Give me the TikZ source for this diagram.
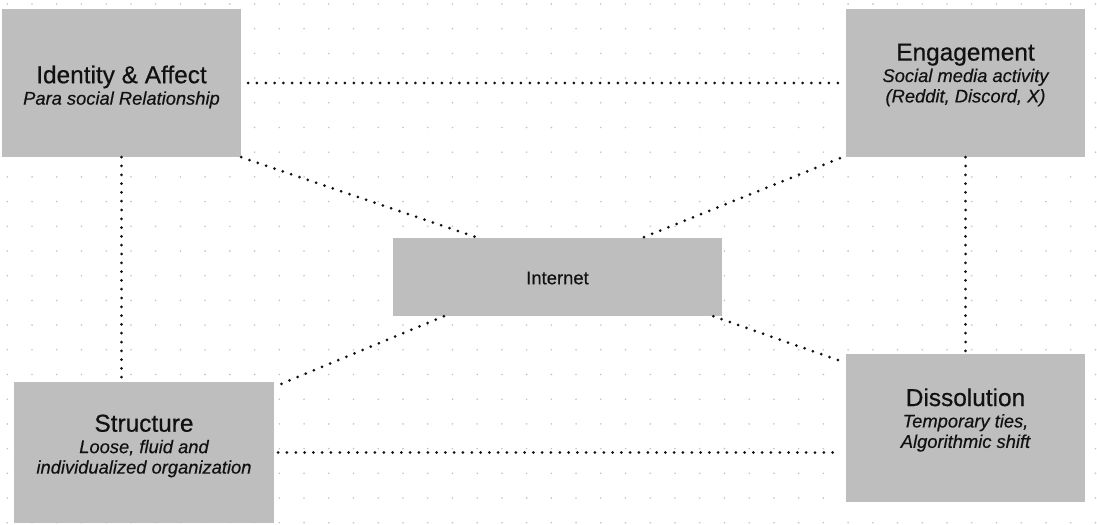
\documentclass[tikz,border=0pt]{standalone}
\usepackage{fontspec}
\setmainfont{Liberation Sans}
\usetikzlibrary{calc}
\definecolor{boxgray}{HTML}{BEBEBE}
\definecolor{griddot}{HTML}{C4C4C4}
\definecolor{ink}{HTML}{111111}
\newcommand{\ttl}[1]{{\fontsize{24.5}{26}\selectfont\addfontfeature{FakeBold=0.6}#1}}
\newcommand{\subt}[1]{{\fontsize{18.4}{20.5}\selectfont\itshape\addfontfeature{FakeBold=0.4}#1}}
\tikzset{
  card/.style={rectangle, fill=boxgray, draw=none, inner sep=0pt},
  cardtext/.style={align=center, inner sep=0pt, text=ink, font=\fontsize{18.4}{20.5}\selectfont},
  link/.style={draw=ink, line width=3bp, line cap=round, dash pattern=on 0bp off 8.8bp},
}
\begin{document}
\begin{tikzpicture}[x=1bp,y=-1bp]
\useasboundingbox (0,0) rectangle (1097,525);
\fill[white] (0,0) rectangle (1097,525);
% background dot grid
\foreach \i in {0,...,44}{
  \foreach \j in {0,...,21}{
    \fill[griddot] ({7.3+24.73*\i},{4+24.7*\j}) circle (0.9);
  }
}
% boxes
\node[card, minimum width=239bp, minimum height=148bp] (id) at (121.5,83) {};
\node[card, minimum width=239bp, minimum height=148bp] (eng) at (965.5,83) {};
\node[card, minimum width=329bp, minimum height=78bp] (inet) at (557.5,277) {};
\node[card, minimum width=260bp, minimum height=141bp] (str) at (144,452.5) {};
\node[card, minimum width=239bp, minimum height=148bp] (dis) at (965.5,428) {};
% texts
\node[cardtext] (idt) at (121.5,87) {\ttl{Identity \& Affect}\\[1pt]\subt{Para social Relationship}};
\node[cardtext] (engt) at (965.5,75) {\ttl{Engagement}\\[1pt]\subt{Social media activity}\\\subt{(Reddit, Discord, X)}};
\node[cardtext] (inett) at (557.5,278) {\fontsize{18.5}{20}\selectfont\addfontfeature{FakeBold=0.5}Internet};
\node[cardtext] (strt) at (144,446) {\ttl{Structure}\\[1pt]\subt{Loose, fluid and}\\\subt{individualized organization}};
\node[cardtext] (dist) at (965.5,420) {\ttl{Dissolution}\\[1pt]\subt{Temporary ties,}\\\subt{Algorithmic shift}};
% connectors
\draw[link] ([xshift=7pt]id.east) -- ([xshift=-2pt]eng.west);
\draw[link] (id.south east) -- ($(inet.north west)!0.258!(inet.north east)$);
\draw[link] ([xshift=-6pt,yshift=-1pt]eng.south west) -- ($(inet.north west)!0.757!(inet.north east)$);
\draw[link] (id.south) -- (id.south |- str.north);
\draw[link] (eng.south) -- (eng.south |- dis.north);
\draw[link] ($(inet.south west)!0.155!(inet.south east)$) -- ([xshift=5pt,yshift=-3pt]str.north east);
\draw[link] ($(inet.south west)!0.973!(inet.south east)$) -- ([xshift=-6pt,yshift=-7pt]dis.north west);
\draw[link] ([xshift=4pt]str.east) -- ([xshift=-6pt]dis.west |- str.east);
\end{tikzpicture}
\end{document}
